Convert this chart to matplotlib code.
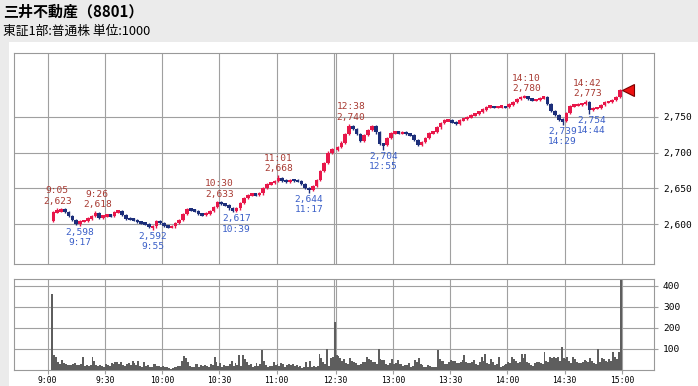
import numpy as np
import matplotlib
matplotlib.use("Agg")
import matplotlib.pyplot as plt
from matplotlib.patches import Rectangle

# ---------------- data ----------------
title = "三井不動産（8801）"
subtitle = "東証1部:普通株 単位:1000"

# 2-minute closes, morning 9:04..11:30
am_open = 2604
am_close = [2617, 2618, 2621, 2617, 2612, 2606, 2601, 2604, 2605, 2608,
            2612, 2616, 2609, 2612, 2613, 2612, 2617, 2618, 2613, 2608,
            2607, 2606, 2603, 2602, 2600, 2596, 2597, 2605, 2602, 2598,
            2596, 2597, 2602, 2606, 2614, 2621, 2620, 2618, 2614, 2613,
            2615, 2618, 2624, 2631, 2628, 2627, 2622, 2619, 2622, 2630,
            2637, 2641, 2642, 2641, 2643, 2650, 2656, 2658, 2660, 2665,
            2661, 2659, 2662, 2661, 2660, 2656, 2650, 2648, 2653, 2662,
            2674, 2685, 2700, 2705]
# 2-minute closes, afternoon 12:32..15:00
pm_open = 2704
pm_close = [2708, 2714, 2726, 2737, 2733, 2726, 2716, 2724, 2732, 2737,
            2728, 2712, 2710, 2720, 2727, 2729, 2727, 2728, 2726, 2725,
            2718, 2710, 2715, 2720, 2727, 2729, 2735, 2741, 2745, 2745,
            2742, 2740, 2745, 2747, 2749, 2752, 2754, 2757, 2760, 2764,
            2764, 2763, 2764, 2764, 2763, 2767, 2770, 2775, 2777, 2778,
            2775, 2773, 2773, 2776, 2777, 2768, 2758, 2752, 2746, 2744,
            2755, 2765, 2766, 2767, 2768, 2770, 2760, 2762, 2762, 2766,
            2770, 2771, 2773, 2778, 2787]

# 1-minute volume (x1000 shares), 9:03..11:30
vol_am = [360, 72, 62, 40, 30, 48, 35, 28, 25, 22,
          25, 30, 35, 25, 22, 30, 60, 20, 25, 20,
          22, 60, 45, 25, 20, 22, 18, 15, 28, 25,
          20, 35, 30, 40, 38, 30, 40, 25, 18, 30,
          35, 25, 45, 35, 25, 45, 20, 15, 40, 20,
          25, 15, 12, 30, 30, 20, 18, 15, 20, 12,
          15, 8, 5, 10, 15, 15, 20, 18, 45, 65,
          55, 40, 20, 15, 12, 30, 28, 15, 22, 20,
          25, 20, 15, 30, 25, 60, 40, 20, 35, 15,
          25, 20, 18, 30, 45, 20, 35, 25, 70, 20,
          70, 50, 40, 25, 30, 15, 20, 35, 20, 30,
          95, 45, 25, 15, 20, 20, 40, 25, 30, 20,
          35, 30, 15, 25, 30, 25, 30, 20, 25, 15,
          20, 10, 15, 40, 15, 45, 15, 20, 15, 20,
          75, 55, 40, 30, 100, 20, 55, 60]
# 1-minute volume, 12:30..15:00
vol_pm = [229, 70, 68, 58, 45, 50, 35, 30, 55, 45,
          40, 35, 24, 22, 30, 40, 38, 60, 50, 47,
          40, 38, 30, 98, 50, 48, 47, 30, 24, 35,
          50, 30, 32, 47, 30, 27, 20, 24, 22, 35,
          16, 20, 47, 40, 55, 30, 24, 13, 15, 24,
          20, 16, 13, 13, 95, 50, 45, 43, 30, 27,
          40, 47, 43, 43, 35, 32, 40, 47, 71, 40,
          32, 35, 40, 47, 30, 24, 40, 60, 45, 76,
          35, 27, 50, 40, 24, 30, 60, 16, 20, 24,
          30, 40, 35, 60, 50, 45, 32, 40, 76, 55,
          76, 40, 32, 24, 20, 35, 38, 40, 35, 30,
          87, 45, 40, 60, 58, 60, 55, 60, 45, 107,
          55, 50, 60, 45, 32, 60, 50, 40, 35, 32,
          40, 47, 43, 40, 55, 45, 32, 30, 98, 40,
          55, 50, 45, 40, 50, 45, 87, 60, 50, 85, 427]

high_times = ["9:05", "9:26", "10:30", "11:01", "12:38", "14:10", "14:42"]
high_vals = [2623, 2618, 2633, 2668, 2740, 2780, 2773]
low_times = ["9:17", "9:55", "10:39", "11:17", "12:55", "14:29", "14:44"]
low_vals = [2598, 2592, 2617, 2644, 2704, 2739, 2754]

price_ticks = [2600, 2650, 2700, 2750]
vol_ticks = [100, 200, 300, 400]
time_labels = ["9:00", "9:30", "10:00", "10:30", "11:00", "12:30",
               "13:00", "13:30", "14:00", "14:30", "15:00"]


def tpos(s):
    h, m = map(int, s.split(":"))
    t = h * 60 + m
    return t - 540 if t <= 690 else t - 750 + 151


# ---------------- figure ----------------
W, H = 698, 386
fig = plt.figure(figsize=(W / 100, H / 100), dpi=100)
fig.patch.set_facecolor("#ebebeb")
fig.add_artist(Rectangle((9 / W, 0), 1, 1 - 42 / H, transform=fig.transFigure,
                         facecolor="white", edgecolor="none", zorder=0))

fig.text(3 / W, 1 - 12 / H, title, fontsize=10.8, fontweight="bold",
         family=["Noto Sans CJK JP", "DejaVu Sans"], va="center", ha="left")
fig.text(3 / W, 1 - 31.5 / H, subtitle, fontsize=9.2,
         family=["Noto Sans CJK JP", "DejaVu Sans"], va="center", ha="left")

L, R = 14.3, 654
ax1 = fig.add_axes([L / W, 1 - 264.3 / H, (R - L) / W, (264.3 - 52.7) / H])
ax2 = fig.add_axes([L / W, 1 - 370 / H, (R - L) / W, (370 - 279.3) / H])

GRID = "#a0a0a0"
UP, DOWN = "#e8174a", "#1c2e7a"
mono = "DejaVu Sans Mono"

xlim = (-17.5, 317.9)
grid_x = [tpos(t) for t in time_labels] + [150]

for ax in (ax1, ax2):
    ax.set_xlim(*xlim)
    for s in ax.spines.values():
        s.set_color("#999999")
        s.set_linewidth(0.8)
    for gx in grid_x:
        ax.axvline(gx, color=GRID, lw=0.8, zorder=0)
    ax.yaxis.tick_right()

# candles
def candles(open0, closes, start):
    closes = np.array(closes, dtype=float)
    opens = np.concatenate([[open0], closes[:-1]])
    t = start + 2 * np.arange(len(closes))
    return t - 1.0, opens, closes

c1 = candles(am_open, am_close, tpos("9:04"))
c2 = candles(pm_open, pm_close, tpos("12:32"))
cx = np.concatenate([c1[0], c2[0]])
co = np.concatenate([c1[1], c2[1]])
cc = np.concatenate([c1[2], c2[2]])
hi = np.maximum(co, cc) + 1.5
lo = np.minimum(co, cc) - 1.5
for t, v in zip(high_times, high_vals):
    i = np.argmin(np.abs(cx - tpos(t)))
    hi[i] = max(hi[i], v)
for t, v in zip(low_times, low_vals):
    i = np.argmin(np.abs(cx - tpos(t)))
    lo[i] = min(lo[i], v)
cols = [UP if c >= o else DOWN for o, c in zip(co, cc)]
ax1.vlines(cx, lo, hi, colors=cols, lw=1.0, zorder=3)
body = np.maximum(np.abs(cc - co), 3.5)
ax1.bar(cx, body, bottom=(co + cc) / 2 - body / 2,
        width=1.9, color=cols, zorder=4, linewidth=0)

for p in price_ticks:
    ax1.axhline(p, color=GRID, lw=0.8, zorder=0)
ax1.set_ylim(2544.2, 2839.2)
ax1.set_yticks(price_ticks)
ax1.set_yticklabels([f"{p:,}" for p in price_ticks], family=mono)
ax1.set_xticks([])
ax1.tick_params(axis="y", length=3, color=GRID, labelsize=6.8, pad=3.5)

for t, v in zip(high_times, high_vals):
    ax1.annotate(f"{t}\n{v:,}", xy=(tpos(t), v), xytext=(0, 1.5),
                 textcoords="offset points", ha="center", va="bottom",
                 fontsize=6.8, family=mono, color="#a83a32", zorder=6)
for t, v in zip(low_times, low_vals):
    ax1.annotate(f"{v:,}\n{t}", xy=(tpos(t), v), xytext=(0, -1.5),
                 textcoords="offset points", ha="center", va="top",
                 fontsize=6.8, family=mono, color="#3a5fc8", zorder=6)

ax1.plot([cx[-1] + 4.3], [cc[-1]], marker="<", markersize=8,
         markerfacecolor="#ee1111", markeredgecolor="#7a0000",
         markeredgewidth=0.8, zorder=7, clip_on=False)

# volume
vt_am = tpos("9:03") + np.arange(len(vol_am))
vt_pm = tpos("12:30") + np.arange(len(vol_pm))
ax2.bar(np.concatenate([vt_am, vt_pm]) - 0.5, vol_am + vol_pm, width=1.0,
        color="#5e5e5e", linewidth=0, zorder=3)
for v in vol_ticks:
    ax2.axhline(v, color=GRID, lw=0.8, zorder=0)
ax2.set_ylim(0, 431)
ax2.set_yticks(vol_ticks)
ax2.set_yticklabels([str(v) for v in vol_ticks], family=mono)
ax2.set_xticks([tpos(t) for t in time_labels])
ax2.set_xticklabels(time_labels, family=mono)
ax2.tick_params(axis="y", length=3, color=GRID, labelsize=6.8, pad=3.5)
ax2.tick_params(axis="x", length=3, color=GRID, labelsize=5.8, pad=1.5)

fig.savefig("out.png", dpi=100, facecolor=fig.get_facecolor())
